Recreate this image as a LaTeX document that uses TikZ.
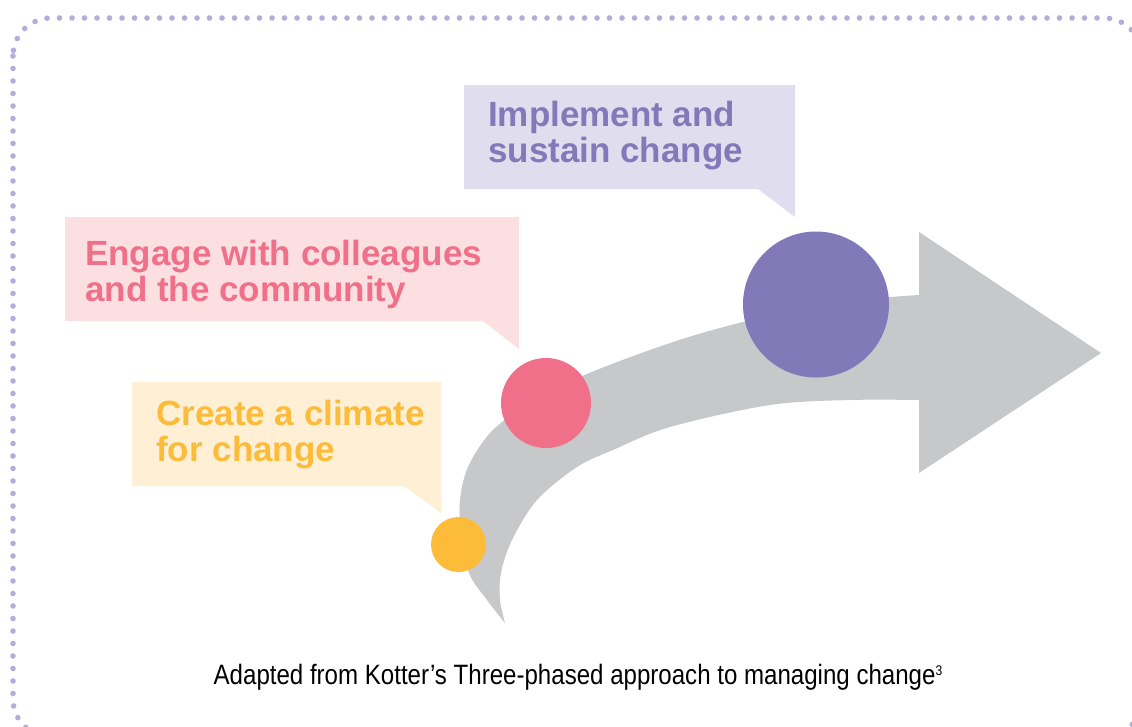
\documentclass[tikz,border=0pt]{standalone}
\usepackage{fontspec}
\setmainfont{Liberation Sans}
\newfontfamily\capfont{Liberation Sans}[FakeStretch=0.86]
\usepackage{xcolor}

\definecolor{framedot}{HTML}{B5ADD9}
\definecolor{arrowgray}{HTML}{C7C8CA}
\definecolor{sunny}{HTML}{FDBB3A}
\definecolor{sunnybg}{HTML}{FFEFD5}
\definecolor{rose}{HTML}{F07089}
\definecolor{rosebg}{HTML}{FCDFE1}
\definecolor{lilac}{HTML}{8279B8}
\definecolor{lilacbg}{HTML}{E0DDEE}

\tikzset{
  phasetext/.style={anchor=base west, align=left, inner sep=0pt,
    font=\bfseries\fontsize{35}{36}\selectfont},
  phasedot/.style={circle, inner sep=0pt, draw=none}
}

\begin{document}
\begin{tikzpicture}[x=1pt, y=-1pt]
    \useasboundingbox (0,0) rectangle (1132,726);

    % Dotted frame
    \draw[framedot, line width=5.6pt, line cap=round,
          dash pattern=on 0pt off 12.5pt, rounded corners=38pt]
        (13,18) rectangle (1142,737);

    % Curved arrow
    \fill[arrowgray] (925,295)
        -- plot[smooth, tension=0.55] coordinates {(919,295) (830,303) (743,322) (670,343) (580,377) (520,410) (490,433) (468,467) (460,500) (461,533) (469,573) (487,600) (505,623)}
        -- plot[smooth, tension=0.55] coordinates {(505,623) (500,600) (501,573) (512,540) (537,500) (577,467) (613,450) (670,427) (770,405) (850,400) (919,400)}
        -- (925,400) -- cycle;
    \fill[arrowgray] (919,232) -- (1101,353) -- (919,473) -- cycle;

    % Callouts
    \fill[lilacbg] (464,85) -- (795,85) -- (795,217) -- (758,189) -- (464,189) -- cycle;
    \fill[rosebg] (65,217) -- (519,217) -- (519,349) -- (483,321) -- (65,321) -- cycle;
    \fill[sunnybg] (132,382) -- (441,382) -- (441,513) -- (404,486) -- (132,486) -- cycle;

    % base anchor sits on the last line
    \node[phasetext, text=lilac] (implement) at (488,162) {Implement and\\sustain change};
    \node[phasetext, text=rose] (engage) at (85,301) {Engage with colleagues\\and the community};
    \node[phasetext, text=sunny] (create) at (156,461) {Create a climate\\for change};

    % Phase dots
    \node[phasedot, fill=sunny, minimum size=55pt] (dotcreate) at (458.5,544.5) {};
    \node[phasedot, fill=rose, minimum size=90pt] (dotengage) at (546,403) {};
    \node[phasedot, fill=lilac, minimum size=146pt] (dotimplement) at (816,304.5) {};

    % Caption
    \node[anchor=base, inner sep=0pt, font=\capfont\fontsize{28}{30}\selectfont] (caption) at (578,684)
        {Adapted from Kotter’s Three-phased approach to managing change\raisebox{9pt}{\fontsize{14}{14}\selectfont 3}};
\end{tikzpicture}
\end{document}
